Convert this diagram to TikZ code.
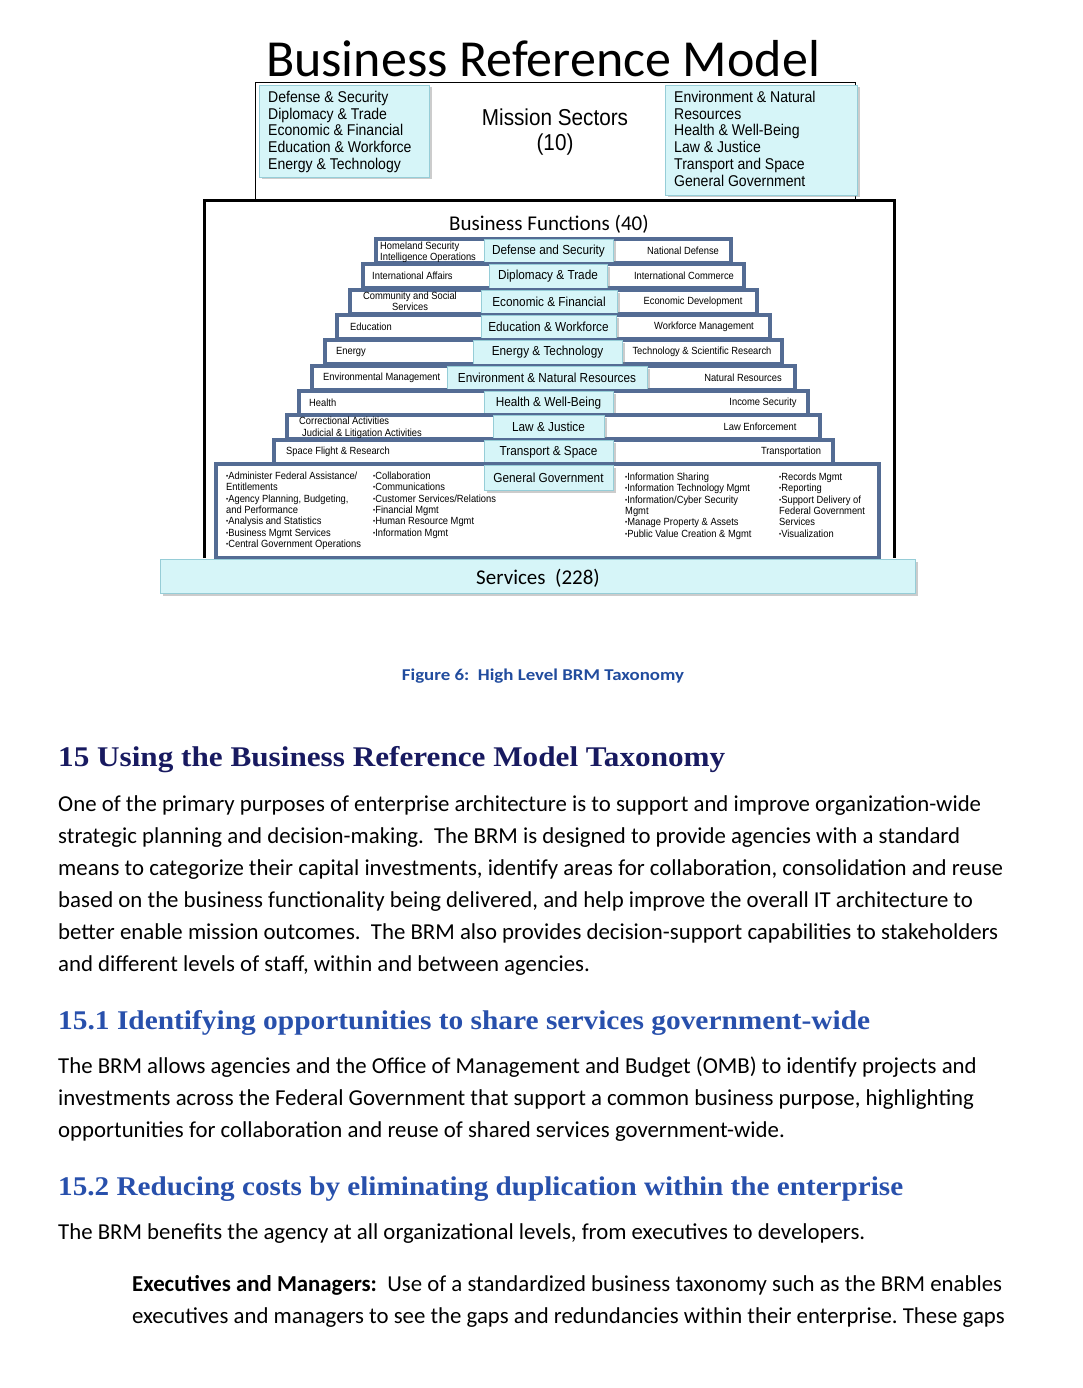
\documentclass[tikz,border=0pt]{standalone}
\usepackage{fontspec}
\usepackage{graphicx}
\usetikzlibrary{shadows}
\setmainfont{Carlito}
\newfontfamily\arl{Liberation Sans}[FakeStretch=0.9]
\newfontfamily\hd{Liberation Serif}
\definecolor{cy}{RGB}{214,245,248}
\definecolor{cyd}{RGB}{150,205,215}
\definecolor{stb}{RGB}{84,108,148}
\definecolor{navy}{RGB}{24,26,96}
\definecolor{hblue}{RGB}{40,80,172}
\definecolor{capblue}{RGB}{33,76,158}
\newcommand\fw[2]{\resizebox{#1pt}{\height}{#2}}
\newcommand\bl{\raisebox{0.08em}{\scalebox{0.65}{•}}}
\begin{document}
\begin{tikzpicture}[x=1pt,y=-1pt,
  cybox/.style={draw=cyd, line width=0.6pt, fill=cy, drop shadow={opacity=0.4, shadow xshift=2.5pt, shadow yshift=-2.5pt}},
  layer/.style={draw=stb, line width=3.4pt, fill=white},
  slbl/.style={inner sep=0pt, font=\arl\fontsize{10.4}{10.8}\selectfont},
  clbl/.style={inner sep=0pt, font=\arl\fontsize{13.1}{15}\selectfont},
  mlist/.style={anchor=base west, inner sep=0pt, font=\arl\fontsize{15.6}{17}\selectfont},
  body/.style={anchor=base west, inner sep=0pt, font=\fontsize{22.8}{27}\selectfont\frenchspacing},
  hone/.style={anchor=base west, inner sep=0pt, text=navy, font=\hd\bfseries\fontsize{28.5}{32}\selectfont},
  htwo/.style={anchor=base west, inner sep=0pt, text=hblue, font=\hd\bfseries\fontsize{27}{32}\selectfont}]
\path[use as bounding box, fill=white] (0,0) rectangle (1082,1388);

% title
\node[anchor=base, inner sep=0pt, font=\fontsize{52}{60}\selectfont] (title) at (543,77) {Business Reference Model};

% mission sectors frame
\draw[black, line width=1pt] (255,201) -- (255,83) -- (855,83) -- (855,201);
\path[cybox] (259,85) rectangle (429,177);
\path[cybox] (665,85) rectangle (857,195);
\foreach \t [count=\i] in {{Defense \& Security},{Diplomacy \& Trade},{Economic \& Financial},{Education \& Workforce},{Energy \& Technology}}
  \node[mlist] (ml\i) at (268,{102.5+(\i-1)*16.75}) {\t};
\foreach \t [count=\i] in {{Environment \& Natural},{Resources},{Health \& Well-Being},{Law \& Justice},{Transport and Space},{General Government}}
  \node[mlist] (mr\i) at (674,{102.5+(\i-1)*16.75}) {\t};
\node[anchor=base, inner sep=0pt, font=\arl\fontsize{23}{26}\selectfont] (ms) at (555,126) {Mission Sectors};
\node[anchor=base, inner sep=0pt, font=\arl\fontsize{23}{26}\selectfont] (msn) at (555,151) {(10)};

% business functions frame
\draw[black, line width=3pt] (204,558) -- (204,201) -- (894,201) -- (894,558);
\node[anchor=base, inner sep=0pt, font=\fontsize{21}{25}\selectfont] (bf) at (549,231) {Business Functions (40)};

% layer 1
\draw[layer] (376,239) rectangle (731,263);
\path[cybox] (484,239) rectangle (613,263);
\node[clbl] (c1) at (548.5,251) {Defense and Security};
\node[slbl, anchor=base west] (l1a) at (380,249.5) {Homeland Security};
\node[slbl, anchor=base west] (l1b) at (380,260) {Intelligence Operations};
\node[slbl] (r1) at (683,251) {National Defense};
% layer 2
\draw[layer] (363,264) rectangle (744,288);
\path[cybox] (489,264) rectangle (607,288);
\node[clbl] (c2) at (548,276) {Diplomacy \& Trade};
\node[slbl, anchor=west] (l2) at (372,276) {International Affairs};
\node[slbl] (r2) at (684,276) {International Commerce};
% layer 3
\draw[layer] (350,290) rectangle (757,314);
\path[cybox] (481,290) rectangle (617,314);
\node[clbl] (c3) at (549,302) {Economic \& Financial};
\node[slbl, anchor=base] (l3a) at (410,299.5) {Community and Social};
\node[slbl, anchor=base] (l3b) at (410,310) {Services};
\node[slbl] (r3) at (693,302) {Economic Development};
% layer 4
\draw[layer] (337,315) rectangle (770,339);
\path[cybox] (481,315) rectangle (616,339);
\node[clbl] (c4) at (548.5,327) {Education \& Workforce};
\node[slbl, anchor=west] (l4) at (350,327) {Education};
\node[slbl] (r4) at (704,327) {Workforce Management};
% layer 5
\draw[layer] (325,340) rectangle (782,364);
\path[cybox] (473,340) rectangle (622,364);
\node[clbl] (c5) at (547.5,352) {Energy \& Technology};
\node[slbl, anchor=west] (l5) at (336,352) {Energy};
\node[slbl] (r5) at (702,352) {Technology \& Scientific Research};
% layer 6
\draw[layer] (312,366) rectangle (795,390);
\path[cybox] (447,366) rectangle (647,390);
\node[clbl] (c6) at (547,378) {Environment \& Natural Resources};
\node[slbl, anchor=west] (l6) at (323,378) {Environmental Management};
\node[slbl] (r6) at (743,378) {Natural Resources};
% layer 7
\draw[layer] (299,391) rectangle (808,415);
\path[cybox] (484,391) rectangle (613,415);
\node[clbl] (c7) at (548.5,403) {Health \& Well-Being};
\node[slbl, anchor=west] (l7) at (309,403) {Health};
\node[slbl] (r7) at (763,403) {Income Security};
% layer 8
\draw[layer] (287,415) rectangle (820,439);
\path[cybox] (493,415) rectangle (604,439);
\node[clbl] (c8) at (548.5,427) {Law \& Justice};
\node[slbl, anchor=base west] (l8a) at (299,424.5) {Correctional Activities};
\node[slbl, anchor=base west] (l8b) at (302,436) {Judicial \& Litigation Activities};
\node[slbl] (r8) at (760,427) {Law Enforcement};
% layer 9
\draw[layer] (274,440) rectangle (833,464);
\path[cybox] (484,440) rectangle (613,464);
\node[clbl] (c9) at (548.5,452) {Transport \& Space};
\node[slbl, anchor=west] (l9) at (286,452) {Space Flight \& Research};
\node[slbl] (r9) at (791,452) {Transportation};
% layer 10
\draw[layer] (216,464) rectangle (879,558);
\path[cybox] (484,465) rectangle (613,490);
\node[clbl] (c10) at (548.5,477.5) {General Government};
\foreach \t [count=\i] in {{\bl Administer Federal Assistance/},{Entitlements},{\bl Agency Planning, Budgeting,},{and Performance},{\bl Analysis and Statistics},{\bl Business Mgmt Services},{\bl Central Government Operations}}
  \node[slbl, anchor=base west] (ga\i) at (226,{479.5+(\i-1)*11.3}) {\t};
\foreach \t [count=\i] in {{\bl Collaboration},{\bl Communications},{\bl Customer Services/Relations},{\bl Financial Mgmt},{\bl Human Resource Mgmt},{\bl Information Mgmt}}
  \node[slbl, anchor=base west] (gb\i) at (373,{479.5+(\i-1)*11.3}) {\t};
\foreach \t [count=\i] in {{\bl Information Sharing},{\bl Information Technology Mgmt},{\bl Information/Cyber Security},{Mgmt},{\bl Manage Property \& Assets},{\bl Public Value Creation \& Mgmt}}
  \node[slbl, anchor=base west] (gc\i) at (625,{480.5+(\i-1)*11.3}) {\t};
\foreach \t [count=\i] in {{\bl Records Mgmt},{\bl Reporting},{\bl Support Delivery of},{Federal Government},{Services},{\bl Visualization}}
  \node[slbl, anchor=base west] (gd\i) at (779,{480.5+(\i-1)*11.3}) {\t};

% services bar
\path[cybox] (160,559) rectangle (915,593);
\node[anchor=base, inner sep=0pt, font=\fontsize{21}{25}\selectfont] (srv) at (538,584) {Services\ \ (228)};

% caption
\node[anchor=base, inner sep=0pt, text=capblue, font=\bfseries\fontsize{16.5}{19}\selectfont] (cap) at (543,680) {\fw{282}{Figure 6:\ \ High Level BRM Taxonomy}};

% text
\node[hone] (h1) at (58,766) {\fw{667}{15 Using the Business Reference Model Taxonomy}};
\node[body] (p1) at (58,811) {One of the primary purposes of enterprise architecture is to support and improve organization-wide};
\node[body] (p2) at (58,843) {strategic planning and decision-making.\ \ The BRM is designed to provide agencies with a standard};
\node[body] (p3) at (58,875) {means to categorize their capital investments, identify areas for collaboration, consolidation and reuse};
\node[body] (p4) at (58,907) {based on the business functionality being delivered, and help improve the overall IT architecture to};
\node[body] (p5) at (58,939) {better enable mission outcomes.\ \ The BRM also provides decision-support capabilities to stakeholders};
\node[body] (p6) at (58,971) {and different levels of staff, within and between agencies.};

\node[htwo] (h2) at (58,1029) {\fw{812}{15.1 Identifying opportunities to share services government-wide}};
\node[body] (q1) at (58,1073) {The BRM allows agencies and the Office of Management and Budget (OMB) to identify projects and};
\node[body] (q2) at (58,1105) {investments across the Federal Government that support a common business purpose, highlighting};
\node[body] (q3) at (58,1137) {opportunities for collaboration and reuse of shared services government-wide.};

\node[htwo] (h3) at (58,1195) {\fw{845}{15.2 Reducing costs by eliminating duplication within the enterprise}};
\node[body] (s1) at (58,1239) {The BRM benefits the agency at all organizational levels, from executives to developers.};
\node[body] (s2) at (132,1291) {\textbf{Executives and Managers:}\ \ Use of a standardized business taxonomy such as the BRM enables};
\node[body] (s3) at (132,1323) {executives and managers to see the gaps and redundancies within their enterprise. These gaps};
\end{tikzpicture}
\end{document}
